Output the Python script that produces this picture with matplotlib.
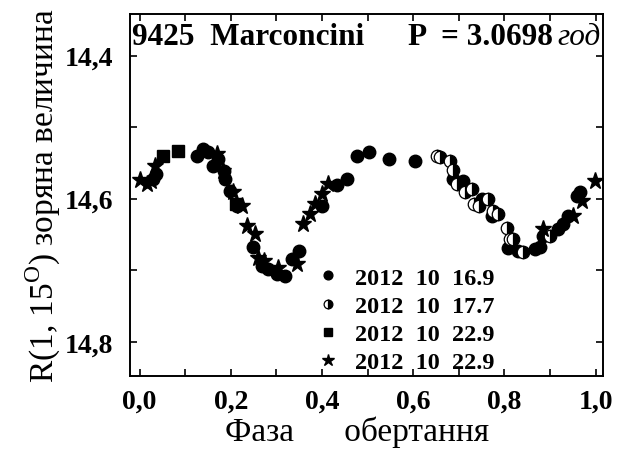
import numpy as np
import matplotlib as mpl
mpl.use('Agg')
from matplotlib import pyplot as plt
from matplotlib.ticker import MultipleLocator, FixedFormatter, FixedLocator

mpl.rcParams['font.family'] = ['Liberation Serif', 'DejaVu Serif']
mpl.rcParams['mathtext.fontset'] = 'custom'
mpl.rcParams['mathtext.rm'] = 'Liberation Serif'

# 2012 10 16.9 (filled circles)
ph1 = [0.030, 0.037, 0.126, 0.140, 0.150, 0.161, 0.172, 0.184, 0.187, 0.198,
       0.214, 0.249, 0.268, 0.281, 0.301, 0.319, 0.334, 0.350, 0.400, 0.433,
       0.454, 0.477, 0.503, 0.547, 0.604, 0.688, 0.710, 0.751, 0.773, 0.808,
       0.830, 0.867, 0.878, 0.885, 0.918, 0.929, 0.940, 0.959, 0.966]
mg1 = [14.572, 14.565, 14.540, 14.530, 14.535, 14.555, 14.544, 14.562, 14.572, 14.589,
       14.610, 14.667, 14.694, 14.699, 14.705, 14.708, 14.684, 14.673, 14.610, 14.581,
       14.572, 14.541, 14.535, 14.545, 14.548, 14.572, 14.576, 14.600, 14.624, 14.669,
       14.673, 14.670, 14.667, 14.652, 14.642, 14.635, 14.624, 14.596, 14.590]

# 2012 10 17.7 (half filled circles)
ph2 = [0.652, 0.659, 0.681, 0.687, 0.696, 0.714, 0.729, 0.733, 0.744, 0.764,
       0.775, 0.786, 0.805, 0.812, 0.819, 0.841, 0.900]
mg2 = [14.540, 14.542, 14.548, 14.560, 14.579, 14.591, 14.586, 14.607, 14.610, 14.600,
       14.617, 14.621, 14.641, 14.656, 14.656, 14.674, 14.652]

# 2012 10 22.9 (squares)
ph3 = [0.051, 0.085, 0.211]
mg3 = [14.540, 14.534, 14.607]

# 2012 10 22.9 (stars)
ph4 = [0.000, 0.016, 0.025, 0.034, 0.170, 0.183, 0.205, 0.224, 0.235, 0.253,
       0.260, 0.273, 0.303, 0.345, 0.358, 0.374, 0.385, 0.400, 0.413, 0.884,
       0.951, 0.970, 0.999]
mg4 = [14.574, 14.579, 14.576, 14.554, 14.537, 14.561, 14.590, 14.610, 14.638, 14.650,
       14.683, 14.687, 14.697, 14.691, 14.635, 14.622, 14.607, 14.593, 14.579, 14.642,
       14.624, 14.603, 14.576]

labels = ['2012  10  16.9', '2012  10  17.7', '2012  10  22.9', '2012  10  22.9']

xticks = [0.0, 0.2, 0.4, 0.6, 0.8, 1.0]
xticklabels = ['0,0', '0,2', '0,4', '0,6', '0,8', '1,0']
yticks = [14.4, 14.6, 14.8]
yticklabels = ['14,4', '14,6', '14,8']

fig = plt.figure(figsize=(6.18, 4.56), dpi=100)
ax = fig.add_axes([0.2104, 0.173, 0.7653, 0.794])

ax.plot(ph1, mg1, 'o', color='k', ms=9, ls='none', label=labels[0])
ax.plot(ph2, mg2, 'o', ls='none', ms=9, fillstyle='right', markerfacecolor='k',
        markerfacecoloralt='white', markeredgecolor='k', markeredgewidth=0.9,
        label=labels[1])
ax.plot(ph3, mg3, 's', color='k', ms=8, ls='none', label=labels[2])
ax.plot(ph4, mg4, '*', color='k', ms=12.5, ls='none', label=labels[3])

ax.set_xlim(-0.021, 1.016)
ax.set_ylim(14.848, 14.342)

ax.xaxis.set_major_locator(FixedLocator(xticks))
ax.xaxis.set_major_formatter(FixedFormatter(xticklabels))
ax.xaxis.set_minor_locator(MultipleLocator(0.1))
ax.yaxis.set_major_locator(FixedLocator(yticks))
ax.yaxis.set_major_formatter(FixedFormatter(yticklabels))
ax.yaxis.set_minor_locator(MultipleLocator(0.1))

ax.tick_params(which='both', direction='in', top=True, right=True,
               length=5, width=1.2, labelsize=20)
ax.tick_params(axis='x', pad=9)
ax.tick_params(axis='y', pad=12)
for lab in ax.get_xticklabels() + ax.get_yticklabels():
    lab.set_fontweight('bold')
for s in ax.spines.values():
    s.set_linewidth(1.4)

ax.set_xlabel('Фаза      обертання', fontsize=24, labelpad=0)
ax.xaxis.set_label_coords(0.48, -0.108)
ax.set_ylabel(r'R(1, 15$^\mathrm{O}$) зоряна величина', fontsize=24, labelpad=1)

ax.text(0.004, 0.917, '9425  Marconcini', transform=ax.transAxes, fontsize=22.5,
        fontweight='bold', va='baseline', ha='left')
ax.text(0.894, 0.917, 'P  = 3.0698', transform=ax.transAxes, fontsize=22.5,
        fontweight='bold', va='baseline', ha='right')
ax.text(0.903, 0.917, 'год', transform=ax.transAxes, fontsize=22.5,
        style='italic', va='baseline', ha='left')

ax.legend(loc='upper left', bbox_to_anchor=(0.368, 0.335), frameon=False,
          numpoints=1, markerscale=0.7, handlelength=1.0, handletextpad=0.6,
          labelspacing=0.25, borderpad=0,
          prop={'weight': 'bold', 'size': 17.5})

fig.savefig('out.png', dpi=100)
